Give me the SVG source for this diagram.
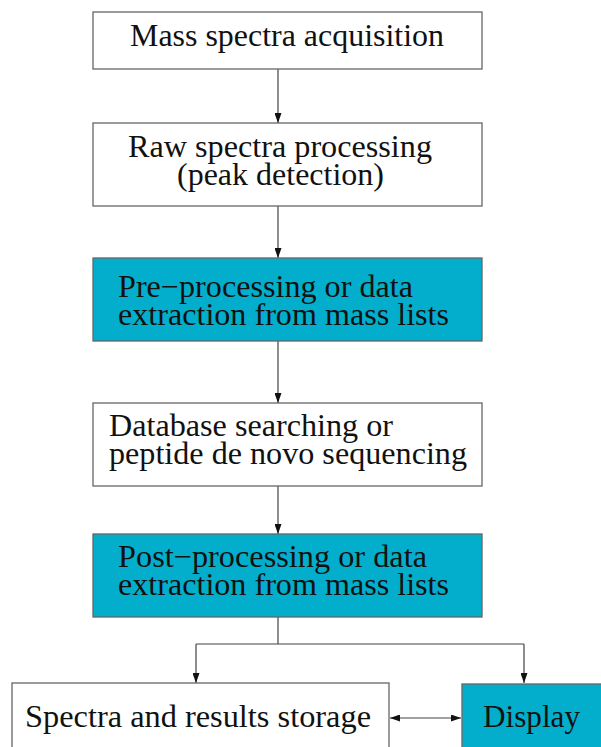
<svg xmlns="http://www.w3.org/2000/svg" width="601" height="747" viewBox="0 0 601 747">
<defs>
<marker id="ah" markerWidth="10" markerHeight="7" refX="10" refY="3.5" orient="auto-start-reverse" markerUnits="userSpaceOnUse">
<path d="M0,0 L10,3.5 L0,7 z" fill="#111"/>
</marker>
<style>
.box{stroke:#666;stroke-width:1.3}
.w{fill:#ffffff}
.c{fill:#02aecb}
.t{font-family:"Liberation Serif","Times New Roman",serif;font-size:31.5px;fill:#111}
.ln{fill:none;stroke:#444;stroke-width:1.2}
</style>
</defs>
<rect width="601" height="747" fill="#ffffff"/>
<g id="connectors">
<path class="ln" d="M278,69 V123" marker-end="url(#ah)"/>
<path class="ln" d="M278,206 V258" marker-end="url(#ah)"/>
<path class="ln" d="M278,341 V403" marker-end="url(#ah)"/>
<path class="ln" d="M278,486 V534" marker-end="url(#ah)"/>
<path class="ln" d="M278,617 V644 M196,644 H524"/>
<path class="ln" d="M196,644 V683" marker-end="url(#ah)"/>
<path class="ln" d="M524,644 V683" marker-end="url(#ah)"/>
<path class="ln" d="M390,718 H461" marker-start="url(#ah)" marker-end="url(#ah)"/>
</g>
<g id="acquisition">
<rect class="box w" x="93" y="12" width="389" height="57"/>
<text class="t" x="130" y="46" textLength="314" lengthAdjust="spacingAndGlyphs">Mass spectra acquisition</text>
</g>
<g id="raw-processing">
<rect class="box w" x="93" y="123" width="389" height="83"/>
<text class="t"><tspan x="128" y="157" textLength="304" lengthAdjust="spacingAndGlyphs">Raw spectra processing</tspan><tspan x="177" y="185" textLength="207" lengthAdjust="spacingAndGlyphs">(peak detection)</tspan></text>
</g>
<g id="pre-processing">
<rect class="box c" x="93" y="258" width="389" height="83"/>
<text class="t"><tspan x="118" y="297" textLength="295" lengthAdjust="spacingAndGlyphs">Pre−processing or data</tspan><tspan x="118" y="325" textLength="331" lengthAdjust="spacingAndGlyphs">extraction from mass lists</tspan></text>
</g>
<g id="database-search">
<rect class="box w" x="93" y="403" width="389" height="83"/>
<text class="t"><tspan x="109" y="436" textLength="284" lengthAdjust="spacingAndGlyphs">Database searching or</tspan><tspan x="109" y="464" textLength="358" lengthAdjust="spacingAndGlyphs">peptide de novo sequencing</tspan></text>
</g>
<g id="post-processing">
<rect class="box c" x="93" y="534" width="389" height="83"/>
<text class="t"><tspan x="118" y="567" textLength="309" lengthAdjust="spacingAndGlyphs">Post−processing or data</tspan><tspan x="118" y="595" textLength="331" lengthAdjust="spacingAndGlyphs">extraction from mass lists</tspan></text>
</g>
<g id="storage">
<rect class="box w" x="12" y="683" width="377" height="80"/>
<text class="t" x="25" y="727" textLength="346" lengthAdjust="spacingAndGlyphs">Spectra and results storage</text>
</g>
<g id="display">
<rect class="box c" x="462" y="684" width="160" height="80"/>
<text class="t" x="483" y="727" textLength="97" lengthAdjust="spacingAndGlyphs">Display</text>
</g>
</svg>
